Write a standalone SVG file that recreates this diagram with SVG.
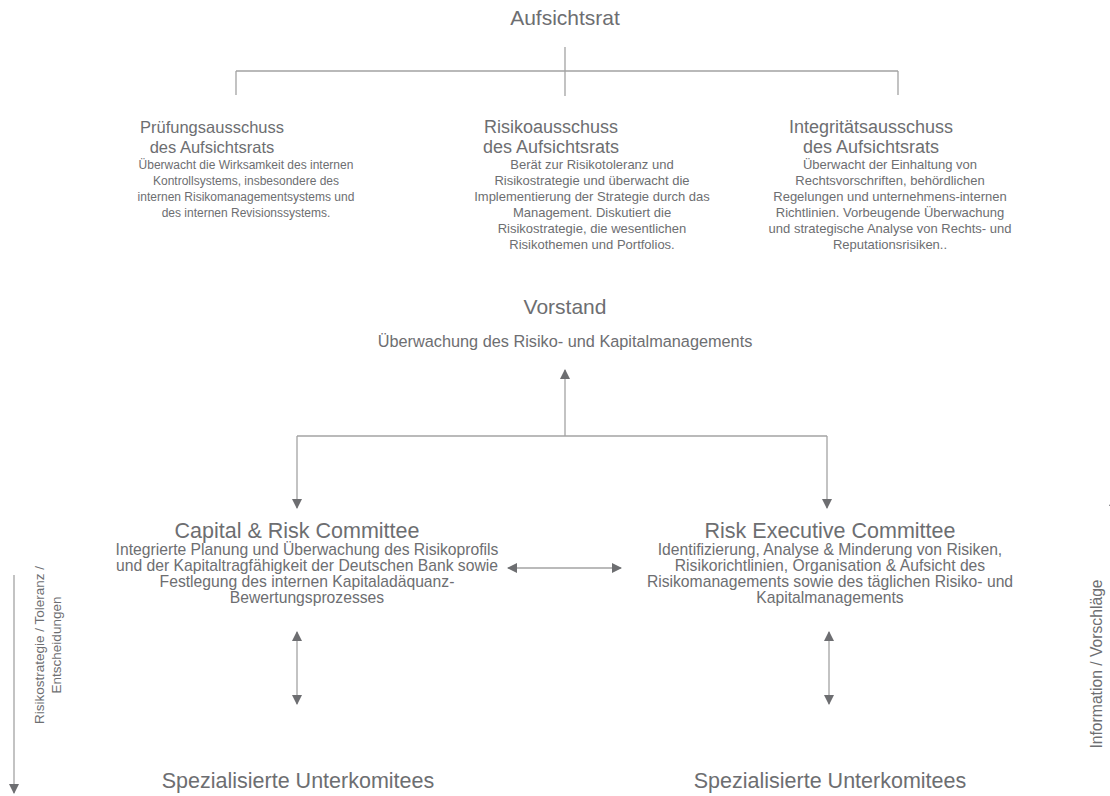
<svg xmlns="http://www.w3.org/2000/svg" width="1110" height="796" viewBox="0 0 1110 796">
<defs>
<marker id="ah" viewBox="0 0 10 10" refX="9" refY="5" markerWidth="10" markerHeight="10" markerUnits="userSpaceOnUse" orient="auto-start-reverse">
<path d="M0,0 L10,5 L0,10 z" fill="#6d6e71"/>
</marker>
<style>
text{font-family:"Liberation Sans",Arial,sans-serif;fill:#6d6e71;text-anchor:middle}
.h{font-size:21px}
.k{font-size:21.5px}
.t{font-size:18px}
.q{font-size:16.5px}
.d{font-size:13px}
.p{font-size:12px}
.s{font-size:16.3px}
.l{font-size:15.7px}
.r{font-size:13.5px}
.v{font-size:15.7px}
.c{fill:none;stroke:#a3a3a3;stroke-width:1.3}
.a{marker-end:url(#ah)}
.b{marker-start:url(#ah);marker-end:url(#ah)}
</style>
</defs>
<rect width="1110" height="796" fill="#fff"/>
<g id="connectors">
<path class="c" d="M565,47 V96 M236,71 H898 M236,71 V95 M898,71 V95"/>
<path class="c a" d="M565,436 V370"/>
<path class="c" d="M297,436 H827"/>
<path class="c a" d="M297,436 V508"/>
<path class="c a" d="M827,436 V508"/>
<path class="c b" d="M508,568 H621"/>
<path class="c b" d="M297,632 V704"/>
<path class="c b" d="M829,632 V704"/>
<path class="c a" d="M14,575 V793"/>
<path class="c a" d="M1114,640 V497"/>
</g>
<g id="aufsichtsrat"><text class="h" x="565" y="25">Aufsichtsrat</text></g>
<g id="pruefungsausschuss">
<text class="q" x="212" y="133">Prüfungsausschuss</text>
<text class="q" x="212" y="153">des Aufsichtsrats</text>
<text class="p" x="246" y="169">Überwacht die Wirksamkeit des internen</text>
<text class="p" x="246" y="185">Kontrollsystems, insbesondere des</text>
<text class="p" x="246" y="201">internen Risikomanagementsystems und</text>
<text class="p" x="246" y="217">des internen Revisionssystems.</text>
</g>
<g id="risikoausschuss">
<text class="t" x="551" y="133">Risikoausschuss</text>
<text class="t" x="551" y="153">des Aufsichtsrats</text>
<text class="d" x="592" y="169">Berät zur Risikotoleranz und</text>
<text class="d" x="592" y="185">Risikostrategie und überwacht die</text>
<text class="d" x="592" y="201">Implementierung der Strategie durch das</text>
<text class="d" x="592" y="217">Management. Diskutiert  die</text>
<text class="d" x="592" y="233">Risikostrategie, die wesentlichen</text>
<text class="d" x="592" y="249">Risikothemen und Portfolios.</text>
</g>
<g id="integritaetsausschuss">
<text class="t" x="871" y="133">Integritätsausschuss</text>
<text class="t" x="871" y="153">des Aufsichtsrats</text>
<text class="d" x="890" y="169">Überwacht der Einhaltung von</text>
<text class="d" x="890" y="185">Rechtsvorschriften, behördlichen</text>
<text class="d" x="890" y="201">Regelungen und  unternehmens-internen</text>
<text class="d" x="890" y="217">Richtlinien. Vorbeugende Überwachung</text>
<text class="d" x="890" y="233">und strategische Analyse von Rechts- und</text>
<text class="d" x="890" y="249">Reputationsrisiken..</text>
</g>
<g id="vorstand">
<text class="h" x="565" y="314">Vorstand</text>
<text class="s" x="565" y="347">Überwachung des Risiko- und Kapitalmanagements</text>
</g>
<g id="capital-risk-committee">
<text class="k" x="297" y="538">Capital &amp; Risk Committee</text>
<text class="l" x="307" y="555">Integrierte Planung und Überwachung des Risikoprofils</text>
<text class="l" x="307" y="571">und der Kapitaltragfähigkeit der Deutschen Bank sowie</text>
<text class="l" x="307" y="587">Festlegung des internen Kapitaladäquanz-</text>
<text class="l" x="307" y="603">Bewertungsprozesses</text>
</g>
<g id="risk-executive-committee">
<text class="k" x="830" y="538">Risk Executive Committee</text>
<text class="l" x="830" y="555">Identifizierung, Analyse &amp; Minderung von Risiken,</text>
<text class="l" x="830" y="571">Risikorichtlinien, Organisation &amp; Aufsicht des</text>
<text class="l" x="830" y="587">Risikomanagements sowie des täglichen Risiko- und</text>
<text class="l" x="830" y="603">Kapitalmanagements</text>
</g>
<g id="unterkomitees-links"><text class="k" x="298" y="788">Spezialisierte Unterkomitees</text></g>
<g id="unterkomitees-rechts"><text class="k" x="830" y="788">Spezialisierte Unterkomitees</text></g>
<g id="label-links">
<text class="r" transform="translate(44,645) rotate(-90)">Risikostrategie / Toleranz /</text>
<text class="r" transform="translate(61,645) rotate(-90)">Entscheidungen</text>
</g>
<g id="label-rechts">
<text class="v" transform="translate(1102,664) rotate(-90)">Information  / Vorschläge</text>
</g>
</svg>
